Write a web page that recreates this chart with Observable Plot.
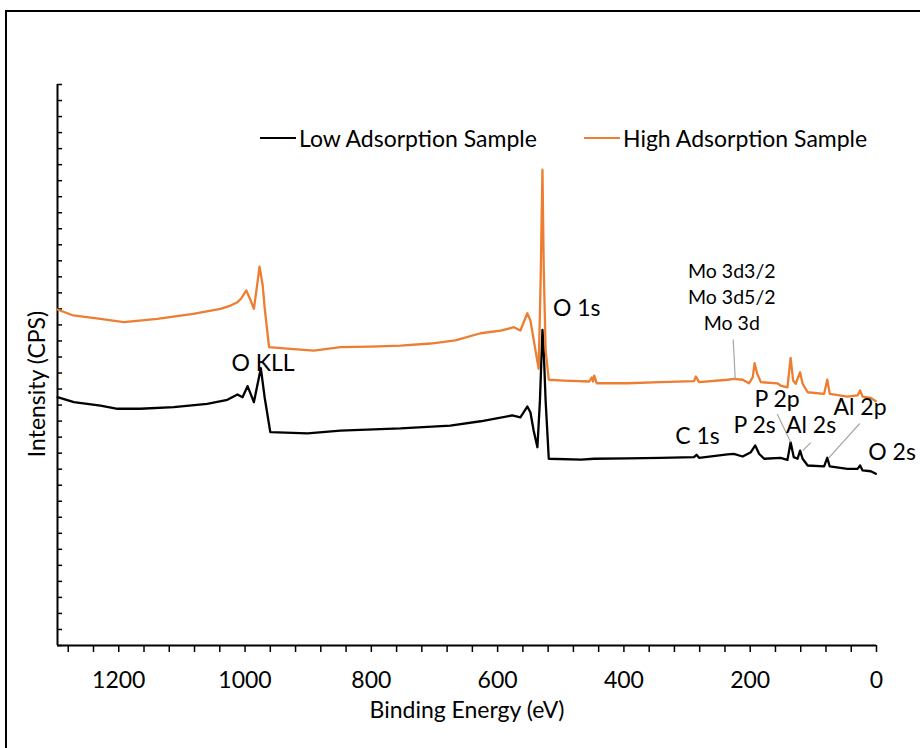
<!DOCTYPE html>
<html>
<head>
<meta charset="utf-8">
<script src="https://cdn.jsdelivr.net/npm/d3@7"></script>
<script src="https://cdn.jsdelivr.net/npm/@observablehq/plot@0.6"></script>
<style>
  body { margin: 0; background: #fff; }
  #wrap { position: relative; width: 920px; height: 748px; overflow: hidden; font-family: Lato, sans-serif; }
  #frame { position: absolute; left: 5px; top: 10px; width: 1000px; height: 1000px; border: 2px solid #000; box-sizing: border-box; pointer-events: none; }
  .leg { position: absolute; top: 124px; display: flex; align-items: center; font-size: 23px; color: #000; white-space: nowrap; }
  .sw { width: 36px; height: 2.5px; margin-right: 3px; }
</style>
</head>
<body>
<div id="wrap">
  <div id="chart"></div>
  <div id="frame"></div>
  <div class="leg" style="left:260px"><span class="sw" style="background:#000"></span><span id="l1"></span></div>
  <div class="leg" style="left:584px"><span class="sw" style="background:#ED7D31"></span><span id="l2"></span></div>
</div>
<script>
// ---- Data (binding energy eV, intensity in arbitrary units of 1,000 CPS) ----
const seriesNames = ["Low Adsorption Sample", "High Adsorption Sample"];
const seriesColors = ["#000000", "#ED7D31"];

const lowAdsorption = [
  [1297, 15.49], [1271, 15.18], [1229, 14.97], [1202, 14.77], [1166, 14.77], [1113, 14.87],
  [1060, 15.08], [1028, 15.33], [1012, 15.66], [1004, 15.49], [996, 16.18], [986, 15.18],
  [975, 17.30], [969, 15.49], [960, 13.31], [901, 13.24], [849, 13.41], [754, 13.54],
  [675, 13.72], [627, 13.99], [577, 14.35], [564, 14.24], [553, 14.91], [548, 14.54],
  [543, 13.41], [537, 12.37], [533, 15.28], [529, 19.69], [527, 18.40], [524, 15.28],
  [519, 11.65], [468, 11.60], [447, 11.65], [394, 11.68], [342, 11.71], [289, 11.75],
  [285, 11.90], [281, 11.71], [236, 11.92], [226, 11.96], [212, 11.79], [199, 12.06],
  [192, 12.48], [186, 11.96], [178, 11.65], [152, 11.71], [141, 11.58], [136, 12.68],
  [131, 11.75], [125, 11.65], [121, 12.16], [117, 11.65], [109, 11.23], [83, 11.17],
  [78, 11.71], [74, 11.17], [46, 11.02], [30, 11.02], [26, 11.23], [22, 10.92],
  [9, 10.87], [1, 10.71]
];

const highAdsorption = [
  [1297, 20.96], [1272, 20.59], [1229, 20.38], [1192, 20.17], [1139, 20.38], [1082, 20.69],
  [1039, 21.00], [1023, 21.21], [1012, 21.42], [1006, 21.65], [998, 22.15], [991, 21.52],
  [986, 21.00], [982, 22.15], [977, 23.64], [972, 22.46], [969, 21.10], [962, 18.61],
  [928, 18.51], [891, 18.40], [849, 18.61], [801, 18.65], [754, 18.71], [706, 18.84],
  [667, 19.03], [627, 19.48], [595, 19.65], [574, 19.86], [564, 19.65], [553, 20.73],
  [548, 20.27], [540, 18.40], [535, 17.26], [532, 22.58], [529, 29.68], [527, 23.60],
  [524, 18.40], [519, 16.58], [495, 16.53], [455, 16.47], [451, 16.72], [449, 16.47],
  [447, 16.84], [443, 16.36], [394, 16.36], [342, 16.43], [289, 16.49], [286, 16.78],
  [281, 16.43], [236, 16.58], [226, 16.64], [212, 16.58], [202, 16.36], [196, 16.74],
  [193, 17.61], [189, 16.95], [183, 16.43], [157, 16.36], [152, 16.22], [141, 16.11],
  [136, 17.95], [132, 16.53], [128, 16.33], [121, 17.05], [117, 16.33], [109, 15.80],
  [83, 15.70], [78, 16.58], [74, 15.70], [46, 15.53], [30, 15.60], [26, 15.91],
  [22, 15.53], [9, 15.45], [1, 15.24]
];

// Peak labels: [text, binding energy, intensity]
const peakLabels = [
  ["O KLL", 971.5, 17.59], ["O 1s", 474.8, 21.02],
  ["C 1s", 283.6, 13.04], ["P 2s", 193.1, 13.72], ["P 2p", 157.5, 15.33],
  ["Al 2s", 103.6, 13.72], ["Al 2p", 26.1, 14.87], ["O 2s", -24.7, 12.06]
];
// Molybdenum labels (smaller in the original): [text, binding energy, intensity]
const moLabels = [
  ["Mo 3d3/2", 229.2, 23.29], ["Mo 3d5/2", 229.2, 21.72], ["Mo 3d", 229.2, 20.10]
];
// Leader lines: [be1, i1, be2, i2]
const leaderLines = [
  [226.9, 19.09, 223.7, 16.59],
  [157.2, 14.44, 135.8, 12.68],
  [104.1, 12.66, 116.8, 12.16],
  [26.5, 13.85, 75.6, 11.70]
];

const xDomain = [1297, 0];
const yDomain = [0, 35];
const xMajorTicks = [1200, 1000, 800, 600, 400, 200, 0];
const xMinorTicks = d3.range(0, 1281, 40);
const yMinorTicks = d3.range(0, 36, 1);
const xTitle = "Binding Energy (eV)";
const yTitle = "Intensity (CPS)";

// ---- Build ----
const toRows = arr => arr.map(([be, i]) => ({be, i}));
const low = toRows(lowAdsorption);
const high = toRows(highAdsorption);
const labels = peakLabels.map(([text, be, i]) => ({text, be, i}));
const mo = moLabels.map(([text, be, i]) => ({text, be, i}));
const leaders = leaderLines.map(([x1, y1, x2, y2]) => ({x1, y1, x2, y2}));

const W = 920, H = 748, ML = 57, MR = 44, MT = 84, MB = 103;
const innerW = W - ML - MR;
const FS = 23;

const chart = Plot.plot({
  width: W, height: H,
  marginLeft: ML, marginRight: MR, marginTop: MT, marginBottom: MB,
  x: {domain: xDomain, label: null},
  y: {domain: yDomain, axis: null, label: null},
  style: {fontFamily: "Lato, sans-serif", fontSize: FS + "px", color: "#000", background: "transparent", overflow: "visible"},
  marks: [
    // y-axis inside ticks
    Plot.tickY(yMinorTicks, {y: d => d, stroke: "#000", strokeWidth: 1.5, insetRight: innerW - 5}),
    // x-axis ticks
    Plot.axisX(xMinorTicks, {tickSize: 7, tickFormat: () => "", strokeWidth: 1.5}),
    Plot.axisX(xMajorTicks, {tickSize: 0, tickPadding: 26, fontSize: FS, tickFormat: d => String(d)}),
    // axis lines
    Plot.ruleY([0], {stroke: "#000", strokeWidth: 2}),
    Plot.ruleX([xDomain[0]], {stroke: "#000", strokeWidth: 2}),
    // axis titles
    Plot.text([xTitle], {frameAnchor: "bottom", dy: 72, fontSize: FS, fill: "#000"}),
    Plot.text([yTitle], {frameAnchor: "left", textAnchor: "middle", rotate: -90, dx: -20, dy: 19, fontSize: FS, fill: "#000"}),
    // spectra
    Plot.line(low, {x: "be", y: "i", stroke: seriesColors[0], strokeWidth: 2.3, strokeLinejoin: "round"}),
    Plot.line(high, {x: "be", y: "i", stroke: seriesColors[1], strokeWidth: 2.3, strokeLinejoin: "round"}),
    // annotations
    Plot.link(leaders, {x1: "x1", y1: "y1", x2: "x2", y2: "y2", stroke: "#A6A6A6", strokeWidth: 1.2}),
    Plot.text(labels, {x: "be", y: "i", text: "text", fontSize: FS, fill: "#000"}),
    Plot.text(mo, {x: "be", y: "i", text: "text", fontSize: 19.5, fill: "#000"})
  ]
});
document.getElementById("chart").appendChild(chart);
document.getElementById("l1").textContent = seriesNames[0];
document.getElementById("l2").textContent = seriesNames[1];
</script>
</body>
</html>
